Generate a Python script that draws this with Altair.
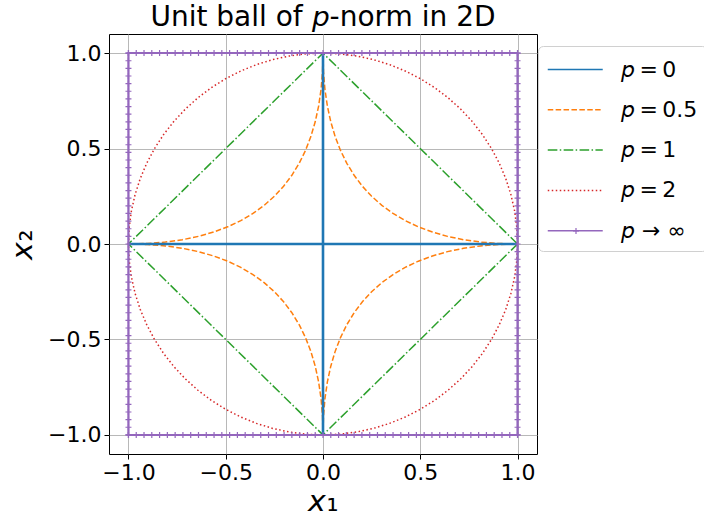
import altair as alt
import pandas as pd

# ---- data ----
labels = ["𝘱\u2009=\u20090", "𝘱\u2009=\u20090.5", "𝘱\u2009=\u20091", "𝘱\u2009=\u20092", "𝘱 → ∞"]
colors = ["#1f77b4", "#ff7f0e", "#2ca02c", "#d62728", "#9467bd"]

# p = 0 : the two axis segments
p0_x = [-1.0, 1.0, 0.0, 0.0]
p0_y = [0.0, 0.0, -1.0, 1.0]
p0_seg = [0, 0, 1, 1]

# p = 0.5 : first-quadrant points (x, y), mirrored into the other quadrants
p05_qx = [0.0, 0.0025, 0.01, 0.0225, 0.04, 0.0625, 0.09, 0.1225, 0.16, 0.2025, 0.25,
          0.3025, 0.36, 0.4225, 0.49, 0.5625, 0.64, 0.7225, 0.81, 0.9025, 1.0]
p05_qy = [1.0, 0.9025, 0.81, 0.7225, 0.64, 0.5625, 0.49, 0.4225, 0.36, 0.3025, 0.25,
          0.2025, 0.16, 0.1225, 0.09, 0.0625, 0.04, 0.0225, 0.01, 0.0025, 0.0]

# p = 1 : diamond
p1_x = [1.0, 0.0, -1.0, 0.0, 1.0]
p1_y = [0.0, 1.0, 0.0, -1.0, 0.0]

# p = 2 : first-quadrant circle points
p2_qx = [0.0, 0.0872, 0.1736, 0.2588, 0.342, 0.4226, 0.5, 0.5736, 0.6428, 0.7071,
         0.766, 0.8192, 0.866, 0.9063, 0.9397, 0.9659, 0.9848, 0.9962, 1.0]
p2_qy = [1.0, 0.9962, 0.9848, 0.9659, 0.9397, 0.9063, 0.866, 0.8192, 0.766, 0.7071,
         0.6428, 0.5736, 0.5, 0.4226, 0.342, 0.2588, 0.1736, 0.0872, 0.0]

# p -> inf : square outline and marker positions along each edge
pinf_x = [1.0, -1.0, -1.0, 1.0, 1.0]
pinf_y = [1.0, 1.0, -1.0, -1.0, 1.0]
edge_t = [-1.0, -0.96, -0.92, -0.88, -0.84, -0.8, -0.76, -0.72, -0.68, -0.64, -0.6,
          -0.56, -0.52, -0.48, -0.44, -0.4, -0.36, -0.32, -0.28, -0.24, -0.2, -0.16,
          -0.12, -0.08, -0.04, 0.0, 0.04, 0.08, 0.12, 0.16, 0.2, 0.24, 0.28, 0.32, 0.36,
          0.4, 0.44, 0.48, 0.52, 0.56, 0.6, 0.64, 0.68, 0.72, 0.76, 0.8, 0.84, 0.88, 0.92,
          0.96, 1.0]

ticks = [-1.0, -0.5, 0.0, 0.5, 1.0]

# ---- build tables ----
rows = []
for i, (x, y, s) in enumerate(zip(p0_x, p0_y, p0_seg)):
    rows.append(dict(series=labels[0], seg=s, i=i, x=x, y=y))


def closed_curve(qx, qy):
    xs, ys = [], []
    xs += list(qx); ys += list(qy)                                  # Q1
    xs += list(reversed(qx)); ys += [-v for v in reversed(qy)]      # Q4
    xs += [-v for v in qx]; ys += [-v for v in qy]                  # Q3
    xs += [-v for v in reversed(qx)]; ys += list(reversed(qy))      # Q2
    return xs, ys


xs, ys = closed_curve(p05_qx, p05_qy)
for i, (x, y) in enumerate(zip(xs, ys)):
    rows.append(dict(series=labels[1], seg=0, i=i, x=x, y=y))
for i, (x, y) in enumerate(zip(p1_x, p1_y)):
    rows.append(dict(series=labels[2], seg=0, i=i, x=x, y=y))
xs, ys = closed_curve(p2_qx, p2_qy)
for i, (x, y) in enumerate(zip(xs, ys)):
    rows.append(dict(series=labels[3], seg=0, i=i, x=x, y=y))
for i, (x, y) in enumerate(zip(pinf_x, pinf_y)):
    rows.append(dict(series=labels[4], seg=0, i=i, x=x, y=y))
lines = pd.DataFrame(rows)
p0_lines = lines[lines["series"] == labels[0]]

mk = []
for t in edge_t:
    mk += [dict(x=t, y=1.0, mk="plus"), dict(x=t, y=-1.0, mk="plus"),
           dict(x=1.0, y=t, mk="plus"), dict(x=-1.0, y=t, mk="plus")]
markers = pd.DataFrame(mk)

dom = alt.Scale(domain=[-1.1, 1.1], nice=False, zero=False)
dom_y = alt.Scale(domain=[-1.1, 1.1], nice=False, zero=False)
PLUS = "M-1,0H1M0,-1V1"

legend = alt.Legend(
    title=None, orient="none", legendX=429, legendY=12,
    fillColor="white", strokeColor="#d0d0d0", cornerRadius=5, padding=9,
    symbolType="M-1,0H3", symbolSize=756, symbolStrokeWidth=1.5,
    labelFontSize=22, labelOffset=45, rowPadding=14.3, labelFont="DejaVu Sans",
    labelColor="black", zindex=0,
)

x_enc = alt.X("x:Q", scale=dom, title="𝘹₁",
              axis=alt.Axis(values=ticks, format=".1f"))
y_enc = alt.Y("y:Q", scale=dom_y, title="𝘹₂",
              axis=alt.Axis(values=ticks, format=".1f"))

curves = alt.Chart(lines).mark_line(clip=True, strokeCap="butt", strokeWidth=1.5).encode(
    x=x_enc, y=y_enc,
    color=alt.Color("series:N", scale=alt.Scale(domain=labels, range=colors), legend=legend),
    strokeDash=alt.StrokeDash(
        "series:N",
        scale=alt.Scale(domain=labels,
                        range=[[1, 0], [5.5, 2.4], [9.6, 2.4, 1.5, 2.4], [1.5, 2.5], [1, 0]]),
        legend=legend),
    detail="seg:N",
    order=alt.Order("i:Q"),
)

# the p = 0 segments are drawn heavier (overplotted) in the reference
p0_thick = alt.Chart(p0_lines).mark_line(
    clip=True, strokeCap="butt", strokeWidth=2.6, color="#1f77b4"
).encode(x=alt.X("x:Q", scale=dom), y=alt.Y("y:Q", scale=dom_y),
         detail="seg:N", order=alt.Order("i:Q"))

square = alt.Chart(lines[lines["series"] == labels[4]]).mark_line(
    clip=True, strokeWidth=2.0, color="#9467bd"
).encode(x=alt.X("x:Q", scale=dom), y=alt.Y("y:Q", scale=dom_y), order=alt.Order("i:Q"))

pts = alt.Chart(markers).mark_point(
    filled=False, size=36, strokeWidth=1.2, color="#9467bd", opacity=1,
).encode(
    x=alt.X("x:Q", scale=dom), y=alt.Y("y:Q", scale=dom_y),
    shape=alt.Shape("mk:N", scale=alt.Scale(domain=["plus"], range=[PLUS]),
                    legend=alt.Legend(title=None, orient="none", legendX=463, legendY=193,
                                      padding=0, labelExpr="''", labelFontSize=6,
                                      symbolStrokeColor="#9467bd", symbolStrokeWidth=1.2,
                                      symbolFillColor="transparent", symbolSize=36,
                                      symbolOpacity=1, zindex=2)),
)

chart = alt.layer(curves, p0_thick, square, pts).properties(
    width=428, height=420,
    title=alt.TitleParams("Unit ball of 𝘱-norm in 2D", fontSize=28, fontWeight="normal",
                          font="DejaVu Sans", color="black", anchor="middle", offset=2),
    autosize=alt.AutoSizeParams(type="none"),
    padding={"left": 109, "top": 34, "right": 167, "bottom": 66},
).configure(font="DejaVu Sans").configure_view(
    stroke="black", strokeWidth=1
).configure_axis(
    labelFontSize=22, labelColor="black", labelFont="DejaVu Sans",
    tickColor="black", tickSize=5, tickWidth=1, domain=False,
    gridColor="#b0b0b0", gridWidth=0.9, labelPadding=3,
    titleFontSize=30, titleFontWeight="normal", titleColor="black", titleFont="DejaVu Sans",
).configure_axisX(titlePadding=3).configure_axisY(titlePadding=10)

chart.save("out.html", embed_options={"renderer": "svg", "actions": False})
